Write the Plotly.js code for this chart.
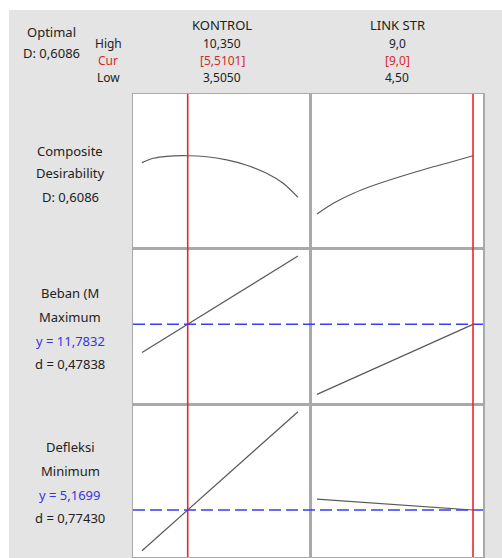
<!DOCTYPE html>
<html><head><meta charset="utf-8">
<script src="https://cdn.plot.ly/plotly-3.0.1.min.js"></script>
<style>html,body{margin:0;padding:0;background:#fff;overflow:hidden}</style>
</head><body><div id="chart" style="width:502px;height:558px"></div>
<script>
// ---- data ----
const factors = ['KONTROL', 'LINK STR'];
const highLabels = ['10,350', '9,0'];
const curLabels = ['[5,5101]', '[9,0]'];
const lowLabels = ['3,5050', '4,50'];
const factorLow = [3.505, 4.5];
const factorHigh = [10.35, 9.0];
const factorCur = [5.5101, 9.0];

// Composite desirability vs each factor
const compKontrolX = [3.505, 4.0, 4.59, 5.52, 6.34, 7.22, 8.10, 8.97, 9.70, 10.35];
const compKontrolY = [0.563, 0.592, 0.605, 0.6086, 0.602, 0.581, 0.546, 0.493, 0.427, 0.334];
const compLinkX = [4.5, 4.97, 5.54, 6.12, 6.89, 7.66, 8.34, 9.0];
const compLinkY = [0.224, 0.295, 0.360, 0.412, 0.470, 0.523, 0.566, 0.6086];

// Beban (Maximum) vs each factor
const bebanKontrolX = [3.505, 10.35];
const bebanKontrolY = [10.37, 15.20];
const bebanLinkX = [4.5, 9.0];
const bebanLinkY = [8.28, 11.78];

// Defleksi (Minimum) vs each factor
const deflKontrolX = [3.505, 10.35];
const deflKontrolY = [4.152, 7.627];
const deflLinkX = [4.5, 9.0];
const deflLinkY = [5.44, 5.17];

const optimalD = 'D: 0,6086';
const rowLabels = [
  ['Composite', 'Desirability', 'D: 0,6086'],
  ['Beban (M', 'Maximum', 'y = 11,7832', 'd = 0,47838'],
  ['Defleksi', 'Minimum', 'y = 5,1699', 'd = 0,77430']
];
const responseY = [null, 11.7832, 5.1699];

// ---- layout geometry ----
const W = 502, H = 558;
const px = v => v / W, py = v => 1 - v / H;
const colDom = [[px(133), px(310)], [px(310), px(483)]];
const rowDom = [[py(248), py(94)], [py(404), py(248)], [py(557), py(404)]];
const xRanges = [[3.110, 10.877], [4.298, 9.288]];
const yRanges = [[0, 1.016], [7.798, 15.598], [3.995, 7.82]];

const series = [
  [[compKontrolX, compKontrolY], [compLinkX, compLinkY]],
  [[bebanKontrolX, bebanKontrolY], [bebanLinkX, bebanLinkY]],
  [[deflKontrolX, deflKontrolY], [deflLinkX, deflLinkY]]
];

const FONT = 'Noto Sans, sans-serif';
const FS = 13;
const traces = [];
const layout = {
  width: W, height: H,
  margin: {l: 0, r: 0, t: 0, b: 0},
  paper_bgcolor: '#e4e4e4',
  plot_bgcolor: '#ffffff',
  showlegend: false,
  font: {family: FONT, size: FS, color: '#222'},
  shapes: [], annotations: []
};

const BORDER = '#a9a9a9';
let idx = 0;
for (let r = 0; r < 3; r++) {
  for (let c = 0; c < 2; c++) {
    idx++;
    const xn = idx === 1 ? 'x' : 'x' + idx;
    const yn = idx === 1 ? 'y' : 'y' + idx;
    const xk = idx === 1 ? 'xaxis' : 'xaxis' + idx;
    const yk = idx === 1 ? 'yaxis' : 'yaxis' + idx;
    layout[xk] = {domain: colDom[c], range: xRanges[c], anchor: yn,
      showline: true, mirror: true, linecolor: BORDER, linewidth: 1.5,
      showgrid: false, zeroline: false, showticklabels: false, ticks: '', fixedrange: true};
    layout[yk] = {domain: rowDom[r], range: yRanges[r], anchor: xn,
      showline: true, mirror: true, linecolor: BORDER, linewidth: 1.5,
      showgrid: false, zeroline: false, showticklabels: false, ticks: '', fixedrange: true};
    const s = series[r][c];
    traces.push({x: s[0], y: s[1], xaxis: xn, yaxis: yn, type: 'scatter', mode: 'lines',
      line: {color: '#5a5a5a', width: 1.2, shape: r === 0 ? 'spline' : 'linear', smoothing: 0.8}, hoverinfo: 'skip'});
    // red current-setting line
    layout.shapes.push({type: 'line', xref: xn, yref: yn, x0: factorCur[c], x1: factorCur[c],
      y0: yRanges[r][0], y1: yRanges[r][1], line: {color: '#e8262b', width: 1.6}, layer: 'above'});
  }
  if (responseY[r] !== null) {
    const yn = 'y' + (r * 2 + 1);
    layout.shapes.push({type: 'line', xref: 'paper', yref: yn, x0: px(133), x1: px(483),
      y0: responseY[r], y1: responseY[r], line: {color: '#3d3df0', width: 1.5, dash: '12px,5px'}, layer: 'above'});
  }
}

// white outer margins (top, left)
layout.shapes.push({type: 'rect', xref: 'paper', yref: 'paper', x0: 0, x1: 1, y0: py(10), y1: 1,
  fillcolor: '#ffffff', line: {width: 0}, layer: 'below'});
layout.shapes.push({type: 'rect', xref: 'paper', yref: 'paper', x0: 0, x1: px(9), y0: 0, y1: 1,
  fillcolor: '#ffffff', line: {width: 0}, layer: 'below'});

function ann(text, x, y, color, size) {
  layout.annotations.push({text: text, xref: 'paper', yref: 'paper', x: px(x), y: py(y),
    xanchor: 'center', yanchor: 'middle', showarrow: false, borderpad: 0,
    font: {family: FONT, size: size || FS, color: color || '#222'}});
}

// header
const HS = 12;
ann('Optimal', 51, 32);
ann(optimalD, 51, 53);
ann('High', 108, 44, null, HS);
ann('Cur', 108, 60, '#d42a2a', HS);
ann('Low', 108, 77, null, HS);
const colCenters = [222, 397];
for (let c = 0; c < 2; c++) {
  ann(factors[c], colCenters[c], 25);
  ann(highLabels[c], colCenters[c], 44, null, HS);
  ann(curLabels[c], colCenters[c], 60, '#d42a2a', HS);
  ann(lowLabels[c], colCenters[c], 77, null, HS);
}

// row labels
const rowLabelY = [[151, 173, 197], [293, 317, 341, 364], [447, 471, 495, 518]];
for (let r = 0; r < 3; r++) {
  rowLabels[r].forEach((t, i) => {
    const isY = t.startsWith('y =');
    ann(t, 70, rowLabelY[r][i], isY ? '#3434e0' : '#222');
  });
}

Plotly.newPlot('chart', traces, layout, {staticPlot: true, displayModeBar: false});
</script>
</body></html>
